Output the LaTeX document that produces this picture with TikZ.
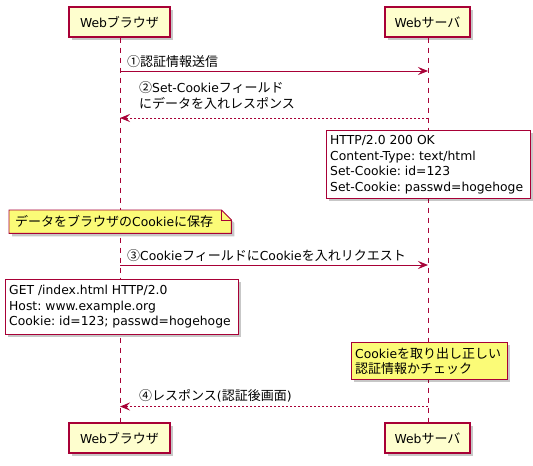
\documentclass[tikz,border=0pt]{standalone}
\usepackage{fontspec}
\setmainfont{DejaVu Sans}[Scale=0.95]
\newfontfamily\jp{Noto Sans CJK JP}
\usetikzlibrary{arrows.meta,shadows}
\definecolor{pumlred}{HTML}{A80036}
\definecolor{pumlfill}{HTML}{FEFECE}
\definecolor{pumlnote}{HTML}{FBFB77}
\frenchspacing
\begin{document}
\begin{tikzpicture}[x=1pt,y=-1pt,
  every node/.style={font=\fontsize{13}{16}\selectfont},
  shade/.style={drop shadow={shadow xshift=3pt,shadow yshift=-3pt,fill=black,opacity=0.22}},
  participant/.style={draw=pumlred,line width=1.4pt,fill=pumlfill,minimum height=30pt,inner xsep=8pt,shade},
  lifeline/.style={draw=pumlred,line width=0.8pt,dash pattern=on 5pt off 5pt},
  msgline/.style={draw=pumlred,line width=0.9pt,-{Stealth[length=10pt,width=8pt,inset=4pt]}},
  retline/.style={msgline,dash pattern=on 2pt off 2pt},
  msg/.style={anchor=west,inner sep=0pt,align=left},
  notebox/.style={draw=pumlred,line width=0.9pt,fill=white,anchor=north west,inner sep=0pt,shade},
  ynotebox/.style={notebox,fill=pumlnote},
  notetext/.style={anchor=west,inner sep=0pt,align=left,font=\fontsize{13}{15.5}\selectfont}
]
\useasboundingbox (0,0) rectangle (533,466);
% participants
\node[participant,minimum width=101pt] (pb) at (119.5,22) {Web{\jp ブラウザ}};
\node[participant,minimum width=85pt] (ps) at (427.5,22) {Web{\jp サーバ}};
\node[participant,minimum width=101pt] (pbb) at (119.5,438) {Web{\jp ブラウザ}};
\node[participant,minimum width=85pt] (psb) at (427.5,438) {Web{\jp サーバ}};
% lifelines
\coordinate (lb1) at (120,37.5);
\coordinate (lb2) at (120,422.5);
\coordinate (ls1) at (428,37.5);
\coordinate (ls2) at (428,422.5);
\draw[lifeline] (lb1) -- (lb2);
\draw[lifeline] (ls1) -- (ls2);
% message 1
\coordinate (m1a) at (120,71);
\coordinate (m1b) at (428,71);
\draw[msgline] (m1a) -- (m1b);
\node[msg] (t1) at (127,62) {{\jp ①認証情報送信}};
% message 2
\coordinate (m2a) at (428,118);
\coordinate (m2b) at (120,118);
\draw[retline] (m2a) -- (m2b);
\node[msg] (t2) at (139,96) {{\jp ②}Set-Cookie{\jp フィールド}\\{\jp にデータを入れレスポンス}};
% HTTP response note
\node[notebox,minimum width=204pt,minimum height=68pt] (n1) at (326,130) {};
\node[notetext] (n1t) at ([xshift=4pt]n1.west) {HTTP/2.0 200 OK\\Content-Type: text/html\\Set-Cookie: id=123\\Set-Cookie: passwd=hogehoge};
% yellow note with folded corner
\node[anchor=north west,minimum width=222pt,minimum height=23pt,inner sep=0pt] (n2) at (9,210) {};
\fill[black,opacity=0.22] ([shift={(3pt,-3pt)}]n2.north west) -- ([shift={(-7pt,-3pt)}]n2.north east) -- ([shift={(3pt,-13pt)}]n2.north east) -- ([shift={(3pt,-3pt)}]n2.south east) -- ([shift={(3pt,-3pt)}]n2.south west) -- cycle;
\draw[pumlred,line width=0.9pt,fill=pumlnote] (n2.north west) -- ([xshift=-10pt]n2.north east) -- ([yshift=-10pt]n2.north east) -- (n2.south east) -- (n2.south west) -- cycle;
\draw[pumlred,line width=0.9pt] ([xshift=-10pt]n2.north east) -- ([xshift=-10pt,yshift=-10pt]n2.north east) -- ([yshift=-10pt]n2.north east);
\node[notetext] (n2t) at ([xshift=6pt]n2.west) {{\jp データをブラウザの}Cookie{\jp に保存}};
% message 3
\coordinate (m3a) at (120,265);
\coordinate (m3b) at (428,265);
\draw[msgline] (m3a) -- (m3b);
\node[msg] (t3) at (127,256) {{\jp ③}Cookie{\jp フィールドに}Cookie{\jp を入れリクエスト}};
% GET note
\node[notebox,minimum width=233pt,minimum height=55pt] (n3) at (5,279) {};
\node[notetext] (n3t) at ([xshift=4pt]n3.west) {GET /index.html HTTP/2.0\\Host: www.example.org\\Cookie: id=123; passwd=hogehoge};
% yellow note 2
\node[ynotebox,minimum width=156pt,minimum height=37pt] (n4) at (351,342) {};
\node[notetext] (n4t) at ([xshift=4pt]n4.west) {Cookie{\jp を取り出し正しい}\\{\jp 認証情報かチェック}};
% message 4
\coordinate (m4a) at (428,406.5);
\coordinate (m4b) at (120,406.5);
\draw[retline] (m4a) -- (m4b);
\node[msg] (t4) at (139,396) {{\jp ④レスポンス}({\jp 認証後画面})};
\end{tikzpicture}
\end{document}
